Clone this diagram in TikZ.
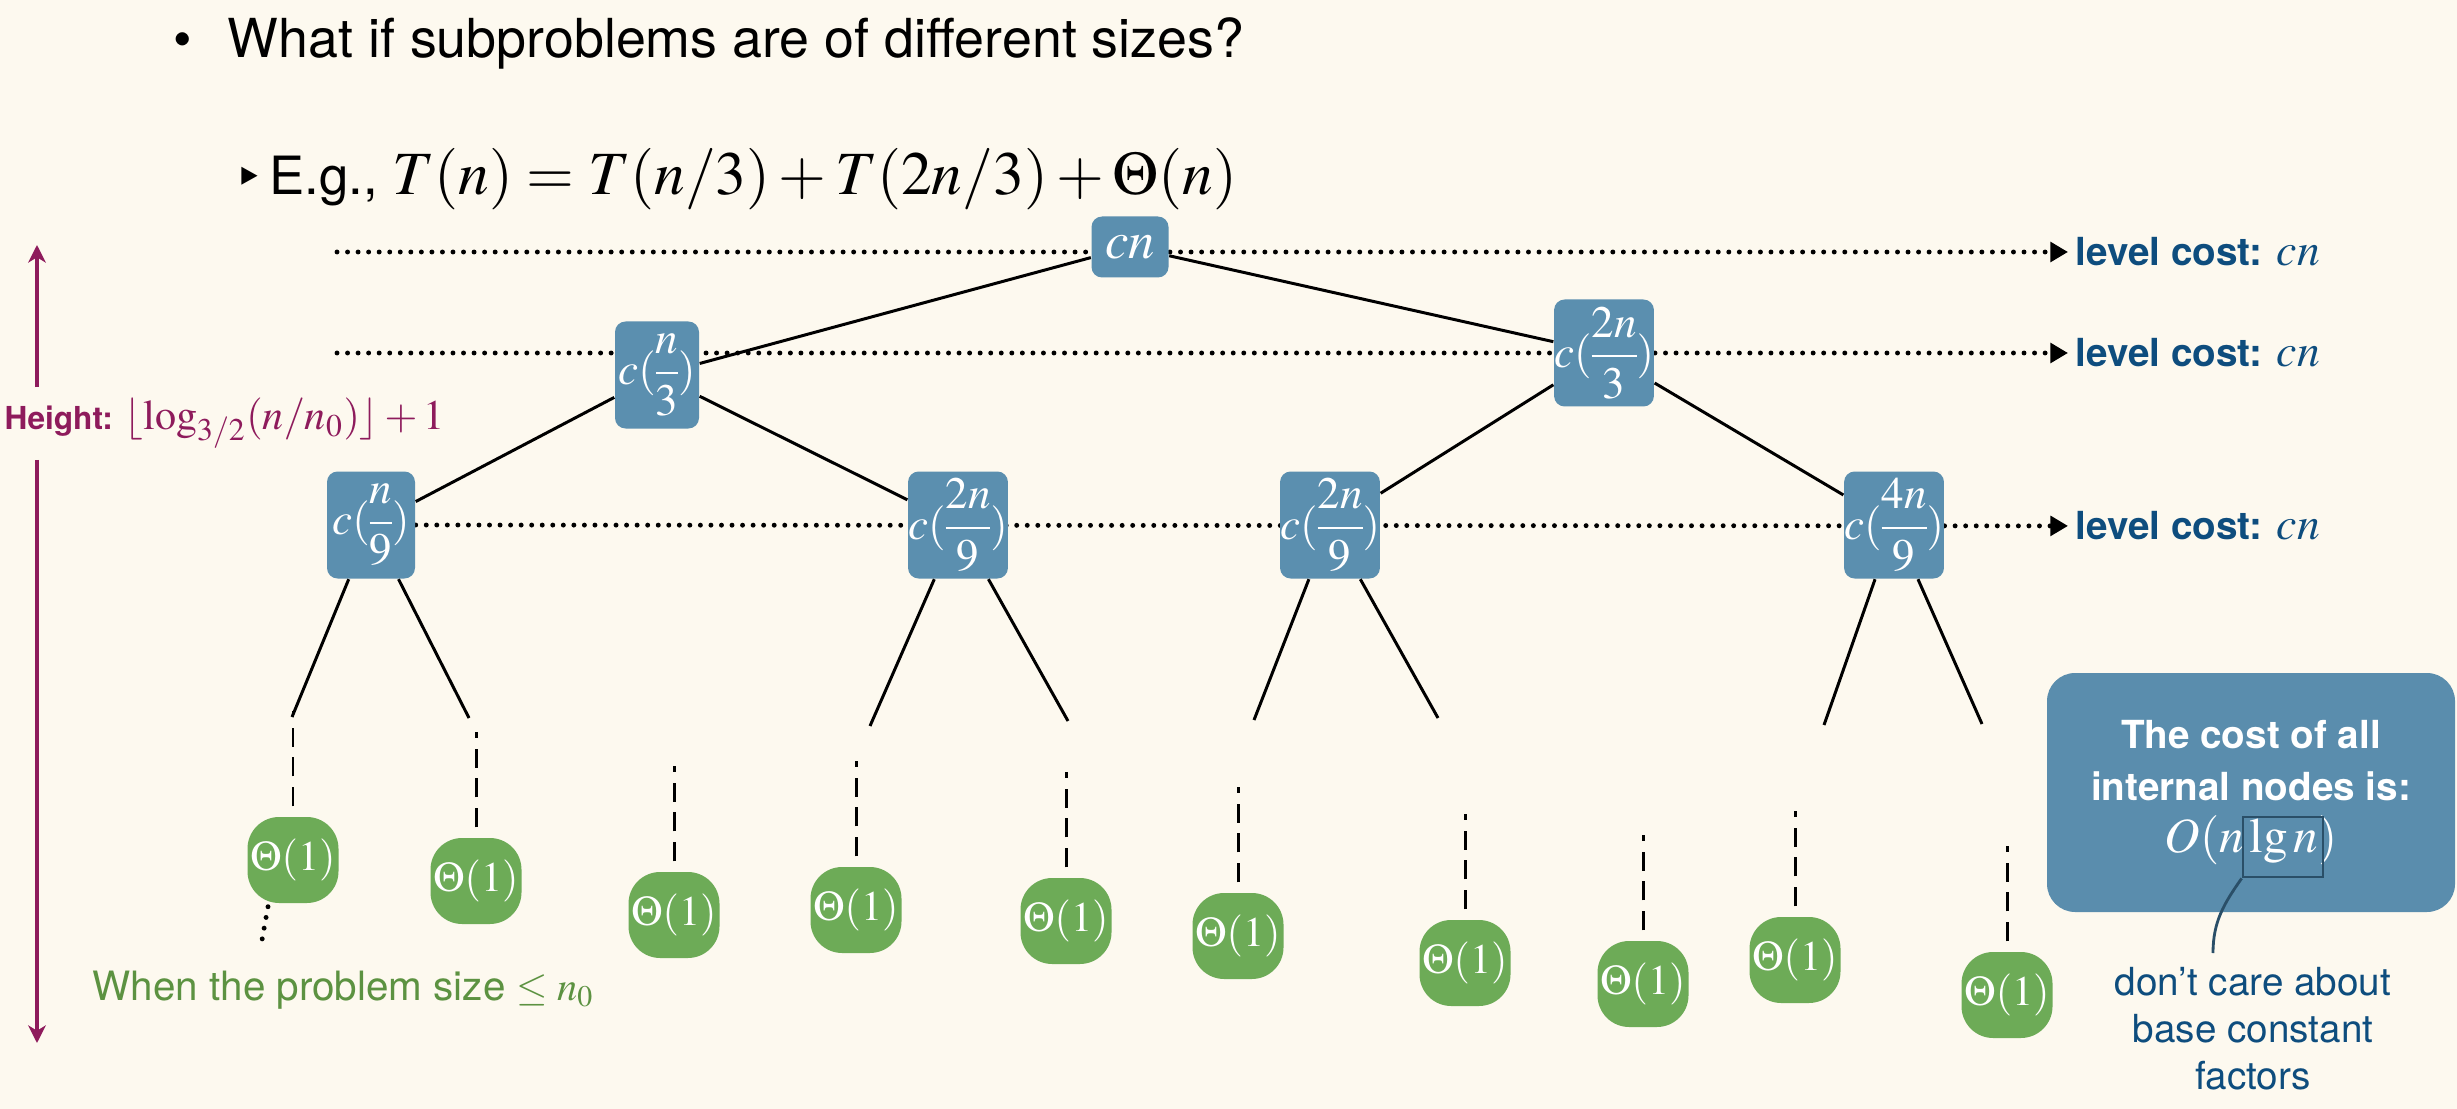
\documentclass[tikz,border=0pt]{standalone}
\usepackage{mathptmx}
\usepackage{amsmath}
\usepackage[no-math]{fontspec}
\setmainfont{TeX Gyre Heros}
\newfontfamily\symfont{DejaVu Sans}
\usetikzlibrary{arrows.meta, positioning}
\definecolor{paperbg}{HTML}{FDF9EF}
\definecolor{treeblue}{HTML}{5B8FAF}
\definecolor{boxblue}{HTML}{5A8DAD}
\definecolor{leafgreen}{HTML}{6DAB57}
\definecolor{hgtpurple}{HTML}{8E1B5C}
\definecolor{costtext}{HTML}{0E4D7E}
\definecolor{whengreen}{HTML}{5C9241}
\definecolor{framecol}{HTML}{2A4F68}
\newcommand{\costfrac}[2]{$\nulldelimiterspace=0pt c(\dfrac{#1}{#2})$}
\pgfdeclarelayer{canvas}
\pgfdeclarelayer{guides}
\pgfsetlayers{canvas,guides,main}

\begin{document}
\begin{tikzpicture}[
  every node/.style={font=\fontsize{11}{13}\selectfont},
  costbox/.style={rectangle, rounded corners=3pt, fill=treeblue, text=white, inner xsep=0pt, inner ysep=2pt, minimum width=0.90cm, minimum height=1.07cm, font=\fontsize{12.8}{15}\selectfont},
  leaf/.style={rectangle, rounded corners=9pt, fill=leafgreen, text=white, minimum width=0.91cm, minimum height=0.86cm, inner sep=0pt, font=\fontsize{12}{14}\selectfont},
  edge/.style={line width=0.85pt},
  leafdash/.style={line width=0.85pt, dash pattern=on 5.4pt off 3.1pt},
  level/.style={line width=1.4pt, line cap=round, dash pattern=on 0pt off 3pt, -{Triangle[length=5pt, width=5.5pt]}},
  leveltext/.style={anchor=west, inner xsep=2pt, text=costtext, font=\fontsize{11}{13}\selectfont\bfseries},
  hgtarrow/.style={draw=hgtpurple, line width=1pt, -{Stealth[length=5pt, width=5pt, inset=1.5pt]}},
  bigbox/.style={rectangle, rounded corners=8pt, fill=boxblue, text=white, minimum width=4.08cm, minimum height=2.39cm, align=center, font=\fontsize{11}{14.8}\selectfont\bfseries},
]
\useasboundingbox (0,0) rectangle (24.57,-11.09);
\begin{pgfonlayer}{canvas}
\fill[paperbg] (0,0) rectangle (24.57,-11.09);
\end{pgfonlayer}

\node[anchor=base, font=\fontsize{15}{18}\selectfont] (dot1) at (1.83,-0.58) {\textbullet};
\node[anchor=base west, inner sep=0pt, font=\fontsize{15.3}{18}\selectfont] (q) at (2.27,-0.58) {What if subproblems are of different sizes?};
\node[anchor=base, font=\symfont\fontsize{14}{16}\selectfont] (tri) at (2.49,-1.95) {‣};
\node[anchor=base west, inner sep=0pt, font=\fontsize{15}{18}\selectfont] (eg) at (2.69,-1.95) {E.g., {\fontsize{17.5}{21}\selectfont$T(n) = T(n/3) + T(2n/3) + \Theta(n)$}};

\node[costbox, minimum width=0.77cm, minimum height=0.61cm, font=\fontsize{15}{17}\selectfont] (cn) at (11.30,-2.47) {$cn$};
\node[costbox, minimum width=0.84cm] (n3) at (6.57,-3.75) {\costfrac{n}{3}};
\node[costbox] (n23) at (16.04,-3.53) {\costfrac{2n}{3}};
\node[costbox, minimum width=0.88cm] (n9) at (3.71,-5.25) {\costfrac{n}{9}};
\node[costbox] (n29a) at (9.58,-5.25) {\costfrac{2n}{9}};
\node[costbox] (n29b) at (13.30,-5.25) {\costfrac{2n}{9}};
\node[costbox] (n49) at (18.94,-5.25) {\costfrac{4n}{9}};

\draw[edge] (cn) -- (n3);
\draw[edge] (cn) -- (n23);
\draw[edge] (n3) -- (n9);
\draw[edge] (n3) -- (n29a);
\draw[edge] (n23) -- (n29b);
\draw[edge] (n23) -- (n49);

\coordinate (e1) at (2.92,-7.17);
\coordinate (e2) at (4.69,-7.18);
\coordinate (e3) at (8.70,-7.26);
\coordinate (e4) at (10.68,-7.21);
\coordinate (e5) at (12.54,-7.20);
\coordinate (e6) at (14.38,-7.18);
\coordinate (e7) at (18.24,-7.25);
\coordinate (e8) at (19.82,-7.24);
\foreach \p/\c in {n9/e1, n9/e2, n29a/e3, n29a/e4, n29b/e5, n29b/e6, n49/e7, n49/e8}
  \draw[edge] (\p) -- (\c);

\foreach \name/\x/\y in {l1/2.93/8.60, l2/4.76/8.81, l3/6.74/9.15, l4/8.56/9.10, l5/10.66/9.21, l6/12.38/9.36, l7/14.65/9.63, l8/16.43/9.84, l9/17.95/9.60, l10/20.07/9.95} {
  \node[leaf] (\name) at (\x,-\y) {$\Theta(1)$};
  \draw[leafdash] ([yshift=0.1cm]\name.north) -- ++(0,0.95);
}
\coordinate (vd) at (2.62,-9.40);
\draw[line width=1.4pt, line cap=round, dash pattern=on 0pt off 3.1pt] ([xshift=-0.25cm,yshift=-0.03cm]l1.south) -- (vd);
\node[anchor=base west, inner sep=0pt, text=whengreen, font=\fontsize{11.5}{14}\selectfont] (small) at (0.92,-10.00) {When the problem size $\leq n_0$};

\node[leveltext] (lc1) at (20.68,-2.52) {level cost: {\mdseries\fontsize{13}{15}\selectfont$cn$}};
\node[leveltext] (lc2) at (20.68,-3.53) {level cost: {\mdseries\fontsize{13}{15}\selectfont$cn$}};
\node[leveltext] (lc3) at (20.68,-5.26) {level cost: {\mdseries\fontsize{13}{15}\selectfont$cn$}};
\coordinate (s1) at (3.37,-2.52);
\coordinate (s2) at (3.37,-3.53);
\begin{pgfonlayer}{guides}
\draw[level] (s1) -- (lc1);
\draw[level] (s2) -- (lc2);
\draw[level] (n9.east) -- (lc3);
\end{pgfonlayer}

\node[anchor=base west, inner xsep=0pt, inner ysep=3pt, text=hgtpurple, font=\fontsize{9}{11}\selectfont\bfseries] (hgt) at (0.04,-4.30) {Height: {\mdseries\fontsize{12}{14}\selectfont$\lfloor \log_{3/2}(n/n_0)\rfloor + 1$}};
\coordinate (htop) at (0.37,-2.45);
\coordinate (hbot) at (0.37,-10.43);
\draw[hgtarrow] (hgt.north -| htop) -- (htop);
\draw[hgtarrow] (hgt.south -| hbot) -- (hbot);

\node[bigbox] (cost) at (22.51,-7.925) {The cost of all\\internal nodes is:\\{\mdseries\fontsize{14}{16}\selectfont$O(n\lg n)$}};
\node[draw=framecol, line width=0.8pt, minimum width=0.80cm, minimum height=0.60cm, inner sep=0pt] (lg) at (22.83,-8.47) {};
\node[anchor=north, inner xsep=0pt, inner ysep=4pt, align=center, text=costtext, font=\fontsize{11}{13.3}\selectfont] (care) at (22.53,-9.53) {don’t care about\\base constant\\factors};
\draw[framecol, line width=0.8pt] (lg.south west) to[out=235, in=90] ([xshift=-0.40cm]care.north);
\end{tikzpicture}
\end{document}
